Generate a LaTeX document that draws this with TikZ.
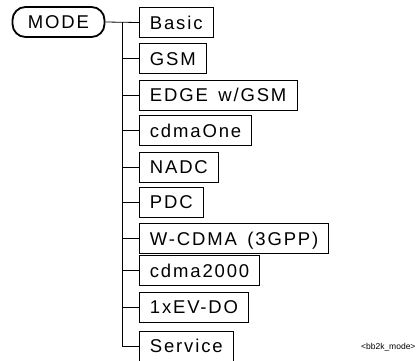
\documentclass[tikz,border=0pt]{standalone}
\usepackage{fontspec}
\setmainfont{Liberation Sans}
\newfontfamily\boxfont[LetterSpace=10,WordSpace=1.5]{Liberation Sans}
\begin{document}
\begin{tikzpicture}[x=1pt,y=-1pt,
  item/.style={draw=black, line width=0.8pt, anchor=west, font=\boxfont\fontsize{18.5}{21}\selectfont,
    inner xsep=10.5pt, minimum height=30pt, text height=13.3pt, text depth=0pt},
  root/.style={draw=black, line width=1.8pt, rounded corners=13pt, font=\boxfont\fontsize{18.5}{21}\selectfont,
    minimum width=92pt, minimum height=30pt, text height=13.3pt, text depth=0pt},
  conn/.style={line width=0.8pt}]
\useasboundingbox (0,0) rectangle (420,360);
\node[root] (mode) at (58.5,22) {MODE};
\node[item] (n1) at (139,22.5) {Basic};
\node[item] (n2) at (139,58.5) {GSM};
\node[item] (n3) at (139,95) {EDGE w/GSM};
\node[item] (n4) at (139,130.5) {cdmaOne};
\node[item] (n5) at (139,167) {NADC};
\node[item] (n6) at (139,202) {PDC};
\node[item] (n7) at (139,238.5) {W-CDMA (3GPP)};
\node[item] (n8) at (139,270.5) {cdma2000};
\node[item] (n9) at (139,307) {1xEV-DO};
\node[item] (n10) at (139,346) {Service};
\coordinate (top) at (122,22);
\draw[conn] (mode.east) -- (n1.west);
\draw[conn] (top) |- (n10.west);
\foreach \i in {2,...,9} { \draw[conn] (top |- n\i.west) -- (n\i.west); }
\node[font=\fontsize{8.5}{10}\selectfont, anchor=east] (tag) at (419,347) {<bb2k\_mode>};
\end{tikzpicture}
\end{document}
